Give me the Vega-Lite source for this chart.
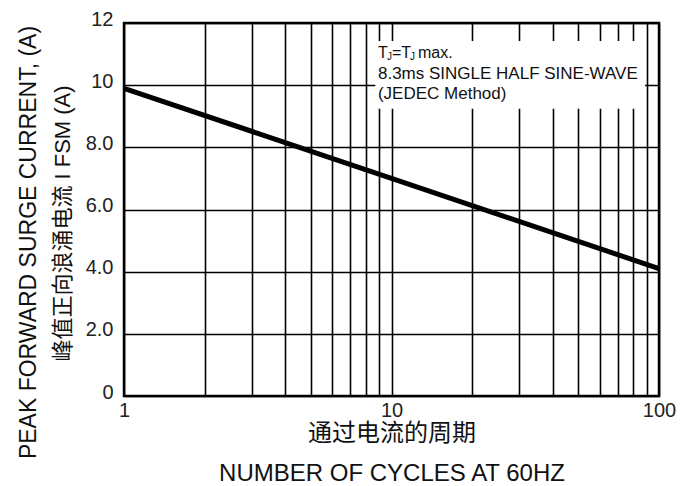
{
  "$schema": "https://vega.github.io/schema/vega-lite/v6.json",
  "width": 535,
  "height": 373,
  "autosize": "none",
  "padding": {"left": 124, "top": 23, "right": 31, "bottom": 90},
  "background": "white",
  "config": {
    "view": {"stroke": "#000", "strokeWidth": 2.5},
    "font": "Liberation Sans"
  },
  "title": {
    "text": "PEAK FORWARD SURGE CURRENT, (A)",
    "orient": "left",
    "anchor": "middle",
    "font": "Liberation Sans",
    "fontSize": 23,
    "fontWeight": "normal",
    "color": "#111",
    "offset": 10,
    "dx": -33
  },
  "encoding": {
    "x": {
      "field": "x",
      "type": "quantitative",
      "scale": {"type": "log", "domain": [1, 100], "nice": false},
      "axis": {
        "values": [1, 2, 3, 4, 5, 6, 7, 8, 9, 10, 20, 30, 40, 50, 60, 70, 80, 90, 100],
        "labelExpr": "indexof([1, 10, 100], datum.value) >= 0 ? format(datum.value, 'd') : ''",
        "ticks": false,
        "domain": false,
        "grid": true,
        "gridColor": "#000",
        "gridWidth": 1.6,
        "gridOpacity": 1,
        "labelFont": "Liberation Sans",
        "labelFontSize": 20,
        "labelColor": "#222",
        "labelPadding": 4,
        "labelFlush": false,
        "labelOverlap": false,
        "title": ["通过电流的周期", "NUMBER OF CYCLES AT 60HZ"],
        "titleFont": "Liberation Sans, Noto Sans CJK SC",
        "titleFontSize": 24,
        "titleFontWeight": "normal",
        "titleColor": "#111",
        "titleLineHeight": 40,
        "titleBaseline": "top",
        "titleY": 25
      }
    },
    "y": {
      "field": "y",
      "type": "quantitative",
      "scale": {"domain": [0, 12], "nice": false, "zero": true},
      "axis": {
        "values": [0, 2, 4, 6, 8, 10, 12],
        "labelExpr": "datum.value == 0 ? '0' : (datum.value >= 10 ? format(datum.value, 'd') : format(datum.value, '.1f'))",
        "ticks": false,
        "domain": false,
        "grid": true,
        "gridColor": "#000",
        "gridWidth": 1.6,
        "gridOpacity": 1,
        "labelFont": "Liberation Sans",
        "labelFontSize": 20,
        "labelColor": "#222",
        "labelPadding": 11,
        "labelOffset": -4,
        "title": "峰值正向浪涌电流  I FSM (A)",
        "titleFont": "Liberation Sans, Noto Sans CJK SC",
        "titleFontSize": 22,
        "titleFontWeight": "normal",
        "titleColor": "#111",
        "titleAngle": -90,
        "titleX": -62,
        "titleY": 200,
        "titleBaseline": "middle",
        "titleAlign": "center"
      }
    }
  },
  "layer": [
    {
      "data": {"values": [{"x": 8.7, "x2": 88.7, "y": 9.24, "y2": 11.42}]},
      "mark": {"type": "rect", "fill": "white", "strokeWidth": 0},
      "encoding": {
        "x2": {"field": "x2"},
        "y2": {"field": "y2"}
      }
    },
    {
      "data": {"values": [{"x": 1, "y": 9.9}, {"x": 10, "y": 7.0}, {"x": 100, "y": 4.1}]},
      "mark": {"type": "line", "color": "#000", "strokeWidth": 5, "strokeCap": "butt"}
    },
    {
      "data": {"values": [
        {"x": 8.9, "y": 10.37, "t": "8.3ms SINGLE HALF SINE-WAVE"},
        {"x": 8.9, "y": 9.71, "t": "(JEDEC Method)"}
      ]},
      "mark": {"type": "text", "align": "left", "baseline": "middle", "font": "Liberation Sans", "fontSize": 17, "color": "#111"},
      "encoding": {"text": {"field": "t"}}
    },
    {
      "data": {"values": [{"x": 8.9, "y": 11.05, "t": "T"}]},
      "mark": {"type": "text", "align": "left", "baseline": "middle", "font": "Liberation Sans", "fontSize": 16, "color": "#111"},
      "encoding": {"text": {"field": "t"}}
    },
    {
      "data": {"values": [{"x": 8.9, "y": 11.05, "t": "J"}]},
      "mark": {"type": "text", "align": "left", "baseline": "middle", "font": "Liberation Sans", "fontSize": 10, "color": "#111", "dx": 9, "dy": 4},
      "encoding": {"text": {"field": "t"}}
    },
    {
      "data": {"values": [{"x": 8.9, "y": 11.05, "t": "=T"}]},
      "mark": {"type": "text", "align": "left", "baseline": "middle", "font": "Liberation Sans", "fontSize": 16, "color": "#111", "dx": 14},
      "encoding": {"text": {"field": "t"}}
    },
    {
      "data": {"values": [{"x": 8.9, "y": 11.05, "t": "J"}]},
      "mark": {"type": "text", "align": "left", "baseline": "middle", "font": "Liberation Sans", "fontSize": 10, "color": "#111", "dx": 32, "dy": 4},
      "encoding": {"text": {"field": "t"}}
    },
    {
      "data": {"values": [{"x": 8.9, "y": 11.05, "t": "max."}]},
      "mark": {"type": "text", "align": "left", "baseline": "middle", "font": "Liberation Sans", "fontSize": 16, "color": "#111", "dx": 40},
      "encoding": {"text": {"field": "t"}}
    }
  ]
}
